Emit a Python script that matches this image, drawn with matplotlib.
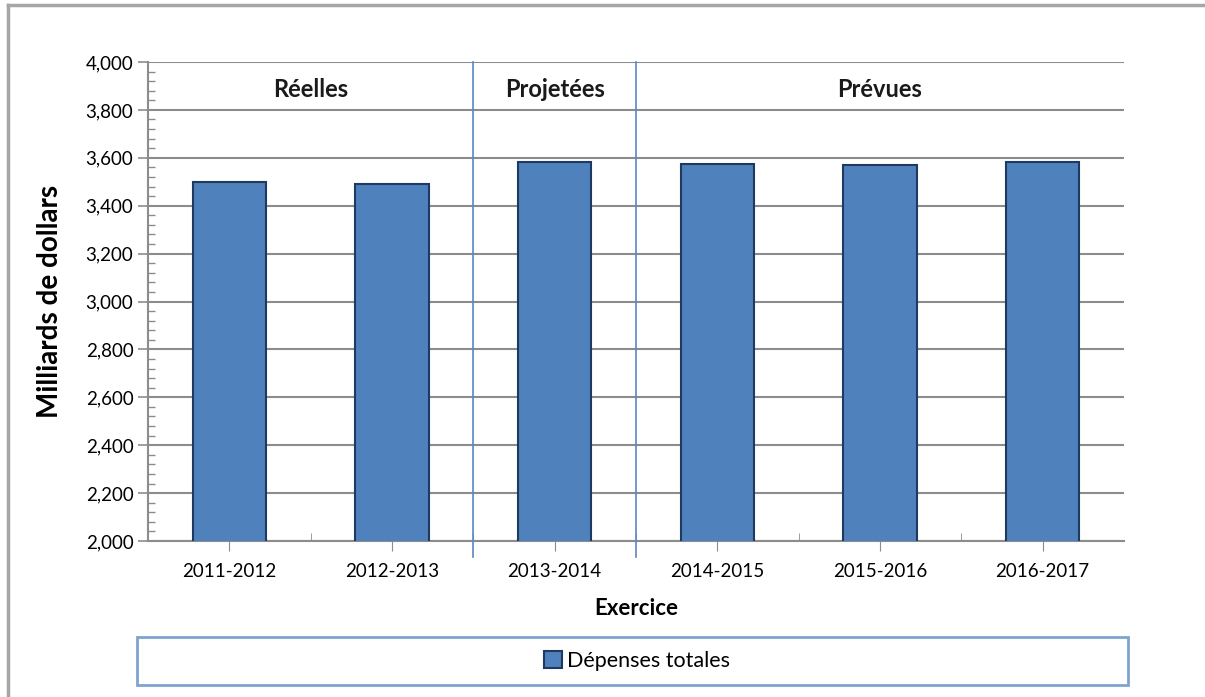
import matplotlib.pyplot as plt
from matplotlib.patches import Rectangle
from matplotlib.ticker import MultipleLocator, FuncFormatter
from matplotlib.lines import Line2D

plt.rcParams['font.family'] = ['Lato', 'DejaVu Sans']

# data
years = ['2011-2012', '2012-2013', '2013-2014', '2014-2015', '2015-2016', '2016-2017']
depenses = [3500, 3492, 3584, 3576, 3568, 3584]
groups = ['Réelles', 'Projetées', 'Prévues']
group_centers = [0.5, 2, 4]
group_breaks = [1.5, 2.5]

bar_color = '#4F81BD'
edge_color = '#1F3A60'
grid_color = '#8C8C8C'
sep_color = '#5B87C0'

W, H = 1205, 697
fig = plt.figure(figsize=(W / 100, H / 100), dpi=100)
ax = fig.add_axes([148 / W, 1 - 541 / H, (1124 - 148) / W, (541 - 62) / H])

x = range(len(years))
bars = ax.bar(x, depenses, width=0.45, color=bar_color, edgecolor=edge_color,
              linewidth=1.5, zorder=3, label='Dépenses totales')

ax.set_xlim(-0.5, len(years) - 0.5)
ax.set_ylim(2000, 4000)
ax.yaxis.set_major_locator(MultipleLocator(200))
ax.yaxis.set_minor_locator(MultipleLocator(40))
ax.yaxis.set_major_formatter(FuncFormatter(lambda v, p: f'{int(v):,}'))
ax.grid(axis='y', color=grid_color, linewidth=1.5, zorder=0)

ax.set_xticks(list(x))
ax.set_xticklabels(years, fontsize=13.5)
ax.set_xticks([i + 0.5 for i in range(len(years) - 1)], minor=True)
ax.tick_params(axis='x', which='major', direction='out', length=7, color=grid_color, pad=9)
ax.tick_params(axis='x', which='minor', direction='in', length=6, color=grid_color)
ax.tick_params(axis='y', which='major', direction='out', length=7, color=grid_color,
               labelsize=13.5, width=1.2)
ax.tick_params(axis='y', which='minor', direction='in', length=5, color=grid_color, width=1.0)

for s in ['top', 'right']:
    ax.spines[s].set_visible(False)
for s in ['left', 'bottom']:
    ax.spines[s].set_color(grid_color)
    ax.spines[s].set_linewidth(1.5)

# period separators and headers
for b in group_breaks:
    ax.plot([b, b], [1933, 4000], color=sep_color, linewidth=1.2, clip_on=False, zorder=4)
for g, c in zip(groups, group_centers):
    ax.text(c, 3885, g, ha='center', va='center', fontsize=17, fontweight='bold', color='#1A1A1A')

ax.set_ylabel('Milliards de dollars', fontsize=20, fontweight='bold', labelpad=16)
ax.set_xlabel('Exercice', fontsize=16, fontweight='bold', labelpad=13)

# legend box
fig.patches.append(Rectangle((137 / W, 1 - 685 / H), (1128 - 137) / W, 48 / H,
                             transform=fig.transFigure, fill=False,
                             edgecolor='#7FA3CF', linewidth=2))
fig.legend(handles=[bars], loc='center', bbox_to_anchor=(637 / W, 1 - 661 / H),
           frameon=False, fontsize=15.5, handlelength=0.85, handleheight=0.85,
           handletextpad=0.2)

# outer frame
fig.add_artist(Line2D([8 / W, 8 / W], [0, 1 - 5 / H], transform=fig.transFigure,
                      color='#A6A6A6', linewidth=2.5))
fig.add_artist(Line2D([8 / W, 1], [1 - 5 / H, 1 - 5 / H], transform=fig.transFigure,
                      color='#A6A6A6', linewidth=2.5))

fig.savefig('out.png', dpi=100)
